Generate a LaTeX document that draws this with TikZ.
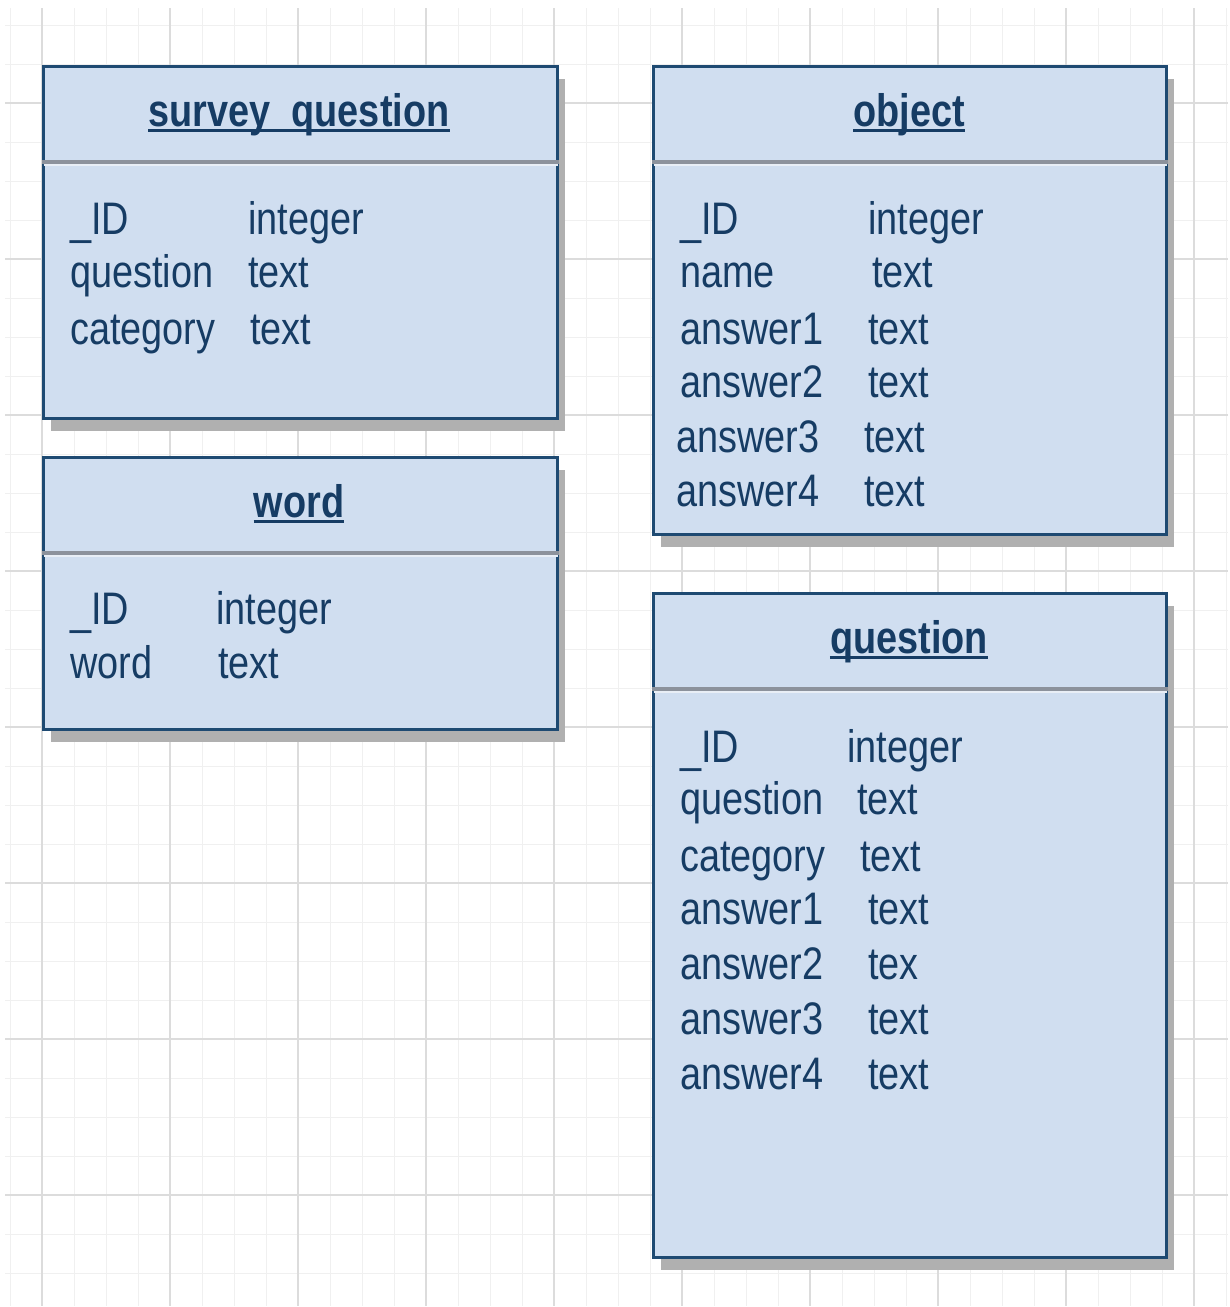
\documentclass[tikz,border=0pt]{standalone}
\usepackage{fontspec}
\setmainfont{Liberation Sans}
\newfontfamily\tblfont[FakeStretch=0.83]{Liberation Sans}
\usetikzlibrary{shadows}
\definecolor{boxfill}{RGB}{208,222,240}
\definecolor{boxline}{RGB}{30,74,114}
\definecolor{txtcol}{RGB}{22,60,100}
\definecolor{sepgray}{RGB}{140,146,156}
\definecolor{seplight}{RGB}{232,238,246}
\definecolor{shadowgray}{RGB}{176,176,176}
\definecolor{gridminor}{RGB}{240,240,240}
\definecolor{gridmajor}{RGB}{220,220,220}
\tikzset{
  tbl/.style={draw=boxline, line width=3pt, fill=boxfill, anchor=north west, inner sep=0pt,
    drop shadow={shadow xshift=7pt, shadow yshift=-12pt, fill=shadowgray, opacity=1}},
  title/.style={anchor=base, inner sep=0pt, text=txtcol, font=\tblfont\fontsize{45.6}{50}\selectfont\bfseries},
  fld/.style={anchor=mid west, inner sep=0pt, yshift=-12pt, text=txtcol, font=\tblfont\fontsize{45.6}{50}\selectfont},
  uline/.style={draw=txtcol, line width=3pt},
  sepline/.style={draw=sepgray, line width=3.5pt},
  seplt/.style={draw=seplight, line width=1.5pt}
}
\begin{document}
\begin{tikzpicture}[x=1pt,y=-1pt]
\useasboundingbox (0,0) rectangle (1230,1307);
\fill[white] (0,0) rectangle (1230,1307);
% grid
\foreach \x in {10,42,...,1226} \draw[gridminor, line width=1pt] (\x,8) -- (\x,1306);
\foreach \y in {25,64,...,1300} \draw[gridminor, line width=1pt] (5,\y) -- (1228,\y);
\foreach \x in {42,170,...,1194} \draw[gridmajor, line width=1.2pt] (\x,8) -- (\x,1306);
\foreach \y in {103,259,...,1200} \draw[gridmajor, line width=1.2pt] (5,\y) -- (1228,\y);

% survey_question
\node[tbl, minimum width=514pt, minimum height=352pt] (sq) at (42,65) {};
\draw[sepline] ([yshift=-97pt]sq.north west) -- ([yshift=-97pt]sq.north east);
\draw[seplt] ([yshift=-100pt,xshift=1.5pt]sq.north west) -- ([yshift=-100pt,xshift=-1.5pt]sq.north east);
\node[title] (sqt) at (299,126) {survey\_question};
\draw[uline] ([yshift=-4pt]sqt.base west) -- ([yshift=-4pt]sqt.base east);
\node[fld] (sqf1) at (70,220) {\_ID};
\node[fld] (sqt1) at (248,220) {integer};
\node[fld] (sqf2) at (70,273) {question};
\node[fld] (sqt2) at (248,273) {text};
\node[fld] (sqf3) at (70,330) {category};
\node[fld] (sqt3) at (250,330) {text};

% word
\node[tbl, minimum width=514pt, minimum height=272pt] (wd) at (42,456) {};
\draw[sepline] ([yshift=-97pt]wd.north west) -- ([yshift=-97pt]wd.north east);
\draw[seplt] ([yshift=-100pt,xshift=1.5pt]wd.north west) -- ([yshift=-100pt,xshift=-1.5pt]wd.north east);
\node[title] (wdt) at (299,517) {word};
\draw[uline] ([yshift=-4pt]wdt.base west) -- ([yshift=-4pt]wdt.base east);
\node[fld] (wdf1) at (70,610) {\_ID};
\node[fld] (wdt1) at (216,610) {integer};
\node[fld] (wdf2) at (70,664) {word};
\node[fld] (wdt2) at (218,664) {text};

% object
\node[tbl, minimum width=513pt, minimum height=468pt] (ob) at (652,65) {};
\draw[sepline] ([yshift=-97pt]ob.north west) -- ([yshift=-97pt]ob.north east);
\draw[seplt] ([yshift=-100pt,xshift=1.5pt]ob.north west) -- ([yshift=-100pt,xshift=-1.5pt]ob.north east);
\node[title] (obt) at (909,126) {object};
\draw[uline] ([yshift=-4pt]obt.base west) -- ([yshift=-4pt]obt.base east);
\node[fld] (obf1) at (680,220) {\_ID};
\node[fld] (obt1) at (868,220) {integer};
\node[fld] (obf2) at (680,273) {name};
\node[fld] (obt2) at (872,273) {text};
\node[fld] (obf3) at (680,330) {answer1};
\node[fld] (obt3) at (868,330) {text};
\node[fld] (obf4) at (680,383) {answer2};
\node[fld] (obt4) at (868,383) {text};
\node[fld] (obf5) at (676,438) {answer3};
\node[fld] (obt5) at (864,438) {text};
\node[fld] (obf6) at (676,492) {answer4};
\node[fld] (obt6) at (864,492) {text};

% question
\node[tbl, minimum width=513pt, minimum height=664pt] (qu) at (652,592) {};
\draw[sepline] ([yshift=-97pt]qu.north west) -- ([yshift=-97pt]qu.north east);
\draw[seplt] ([yshift=-100pt,xshift=1.5pt]qu.north west) -- ([yshift=-100pt,xshift=-1.5pt]qu.north east);
\node[title] (qut) at (909,653) {question};
\draw[uline] ([yshift=-4pt]qut.base west) -- ([yshift=-4pt]qut.base east);
\node[fld] (quf1) at (680,748) {\_ID};
\node[fld] (qut1) at (847,748) {integer};
\node[fld] (quf2) at (680,800) {question};
\node[fld] (qut2) at (857,800) {text};
\node[fld] (quf3) at (680,857) {category};
\node[fld] (qut3) at (860,857) {text};
\node[fld] (quf4) at (680,910) {answer1};
\node[fld] (qut4) at (868,910) {text};
\node[fld] (quf5) at (680,965) {answer2};
\node[fld] (qut5) at (868,965) {tex};
\node[fld] (quf6) at (680,1020) {answer3};
\node[fld] (qut6) at (868,1020) {text};
\node[fld] (quf7) at (680,1075) {answer4};
\node[fld] (qut7) at (868,1075) {text};
\end{tikzpicture}
\end{document}
